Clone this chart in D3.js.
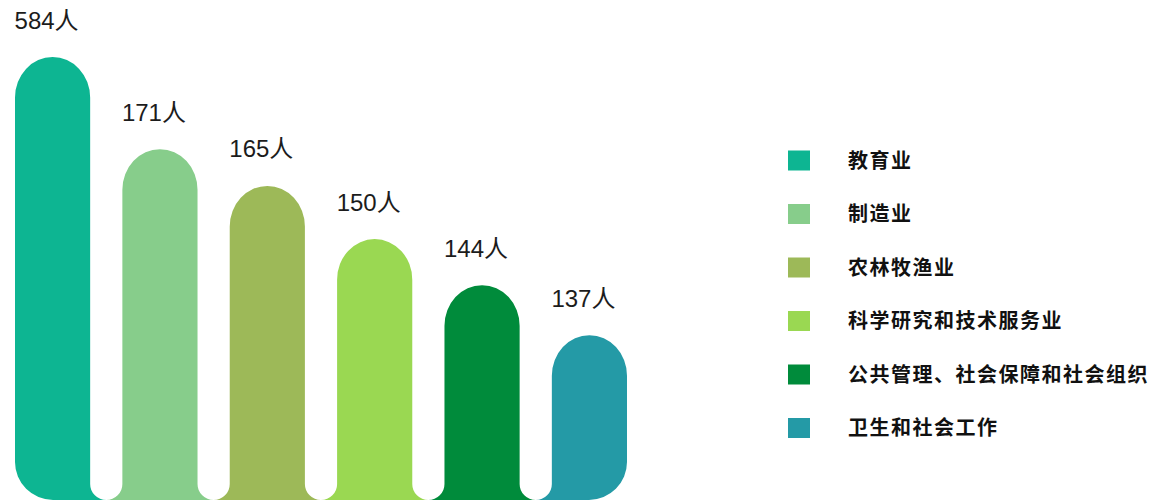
<!DOCTYPE html>
<html>
<head>
<meta charset="utf-8">
<script src="https://cdn.jsdelivr.net/npm/d3@7"></script>
<style>
  html, body { margin: 0; padding: 0; background: #fff; }
  svg { display: block; }
</style>
</head>
<body>
<svg id="chart" width="1159" height="502"></svg>
<script>
// ---- data ----
const categories = ["教育业", "制造业", "农林牧渔业", "科学研究和技术服务业", "公共管理、社会保障和社会组织", "卫生和社会工作"];
const values = [584, 171, 165, 150, 144, 137];
// visual bar lengths (the infographic is not drawn to scale), in % of the tallest bar
const barLevels = [100, 79.2, 70.9, 58.9, 48.5, 37.2];
const unit = "人";
const colors = ["#0db592", "#87cd8b", "#9db958", "#9ad852", "#008b3b", "#249aa6"];

const svg = d3.select("#chart");
const baseY = 500;

const x = d3.scaleBand().domain(categories).range([15, 627]).paddingInner(0.3).paddingOuter(0);
const y = d3.scaleLinear().domain([0, 100]).range([baseY, 57]);
const color = d3.scaleOrdinal().domain(categories).range(colors);

const bw = x.bandwidth();
const gap = x.step() - bw;
const rg = gap / 2;       // radius of white gaps' rounded bottoms
const R = 38;             // outer bottom corners

function barPath(d, i) {
  const left = x(d), right = left + bw, top = y(barLevels[i]);
  const rx = bw / 2, ry = bw / 2 + 3;
  let s = `M${right},${top + ry} A${rx},${ry} 0 0 0 ${left},${top + ry}`;
  if (i === 0) {
    s += ` L${left},${baseY - R} A${R},${R} 0 0 0 ${left + R},${baseY}`;
  } else {
    s += ` L${left},${baseY - rg} A${rg},${rg} 0 0 1 ${left - rg},${baseY}`;
  }
  if (i === categories.length - 1) {
    s += ` L${right - R},${baseY} A${R},${R} 0 0 0 ${right},${baseY - R}`;
  } else {
    s += ` L${right + rg},${baseY} A${rg},${rg} 0 0 1 ${right},${baseY - rg}`;
  }
  s += " Z";
  return s;
}

svg.append("g").selectAll("path")
  .data(categories)
  .join("path")
  .attr("d", (d, i) => barPath(d, i))
  .attr("fill", d => color(d));

// value labels
svg.append("g").selectAll("text")
  .data(categories)
  .join("text")
  .attr("x", d => x(d) + bw / 2 - 6)
  .attr("y", (d, i) => y(barLevels[i]) - 28.5)
  .attr("text-anchor", "middle")
  .attr("font-family", "'Liberation Sans', Arial, 'Noto Sans CJK SC', sans-serif")
  .attr("font-size", 24)
  .attr("fill", "#1c1c1c")
  .text((d, i) => values[i] + unit);

// legend
const ly = d3.scalePoint().domain(categories).range([160.5, 428]);
const legend = svg.append("g").selectAll("g")
  .data(categories)
  .join("g")
  .attr("transform", d => `translate(788,${ly(d)})`);
legend.append("rect")
  .attr("x", 0).attr("y", -10).attr("width", 22).attr("height", 20)
  .attr("fill", d => color(d));
legend.append("text")
  .attr("x", 60).attr("y", 0).attr("dy", "0.36em")
  .attr("font-family", "'Noto Sans CJK SC', sans-serif")
  .attr("font-weight", "bold")
  .attr("font-size", 20)
  .attr("letter-spacing", 1.5)
  .attr("fill", "#111")
  .text(d => d);
</script>
</body>
</html>
